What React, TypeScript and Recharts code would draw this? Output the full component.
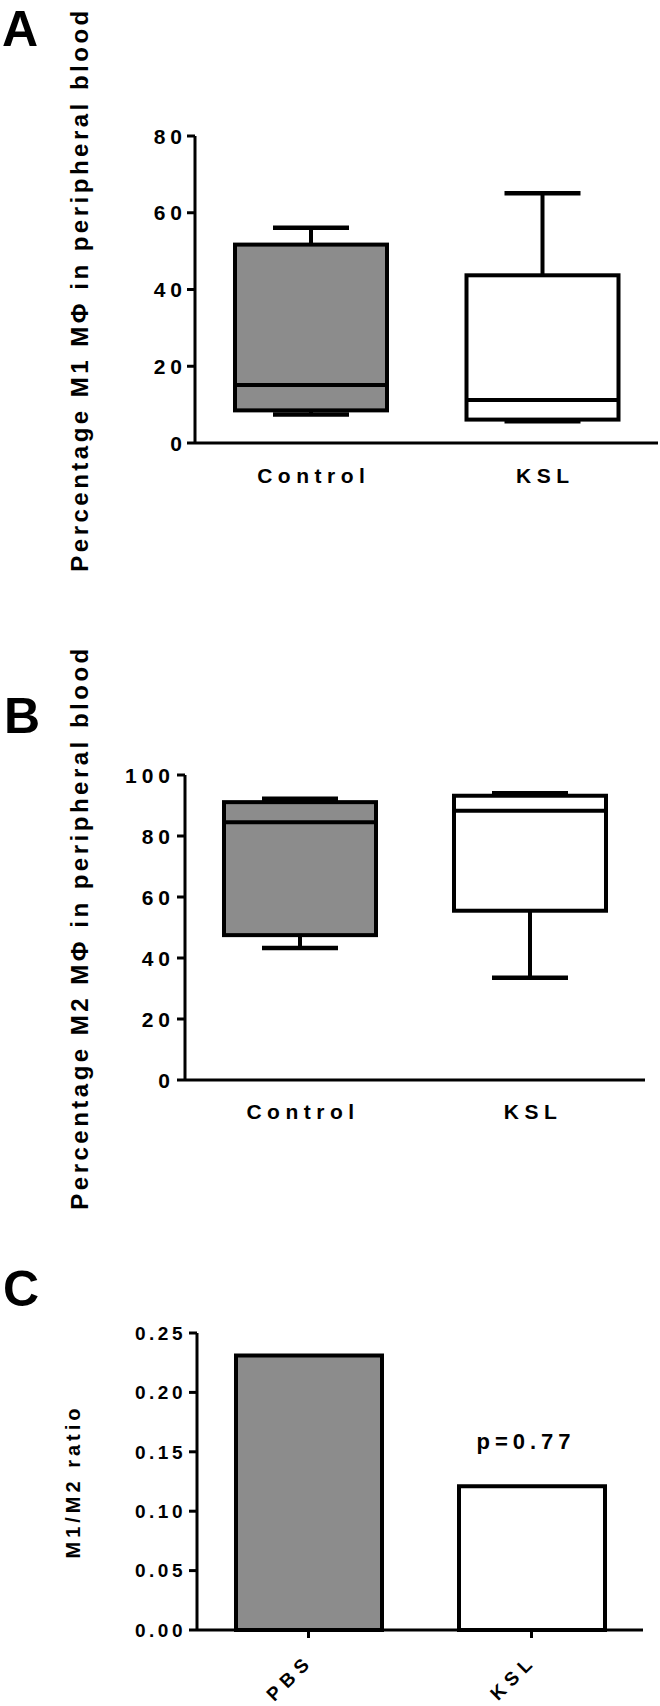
import React from 'react';
import { ComposedChart, Bar, XAxis, YAxis, Cell, LabelList } from 'recharts';

// ---------- data ----------
const boxGroups = ['Control', 'KSL'];

const m1Min = [7.4, 5.7];
const m1Q1 = [8.5, 6.1];
const m1Median = [15.1, 11.2];
const m1Q3 = [51.7, 43.7];
const m1Max = [56.1, 65.1];
const m1Ticks = [0, 20, 40, 60, 80];

const m2Min = [43.3, 33.5];
const m2Q1 = [47.5, 55.5];
const m2Median = [84.5, 88.3];
const m2Q3 = [91.1, 93.2];
const m2Max = [92.2, 94.0];
const m2Ticks = [0, 20, 40, 60, 80, 100];

const ratioGroups = ['PBS', 'KSL'];
const ratioValues = [0.231, 0.121];
const ratioTicks = [0, 0.05, 0.1, 0.15, 0.2, 0.25];
const ratioPLabels = ['', 'p=0.77'];

const groupFills = ['#8c8c8c', '#ffffff'];

const m1Title = 'Percentage M1 MΦ in peripheral blood';
const m2Title = 'Percentage M2 MΦ in peripheral blood';
const ratioTitle = 'M1/M2 ratio';

// ---------- tables ----------
const makeBoxTable = (mins: number[], q1s: number[], meds: number[], q3s: number[], maxs: number[]) =>
  boxGroups.map((name, i) => ({
    name,
    min: mins[i],
    q1: q1s[i],
    median: meds[i],
    q3: q3s[i],
    max: maxs[i],
    range: [mins[i], maxs[i]],
  }));

const m1Data = makeBoxTable(m1Min, m1Q1, m1Median, m1Q3, m1Max);
const m2Data = makeBoxTable(m2Min, m2Q1, m2Median, m2Q3, m2Max);
const ratioData = ratioGroups.map((name, i) => ({ name, value: ratioValues[i], p: ratioPLabels[i] }));

// ---------- styles ----------
const FONT = '"Liberation Sans", Arial, sans-serif';
const BLACK = '#000000';

const BoxShape = (props: any) => {
  const { x, y, width, height, payload, index } = props;
  const top = Math.min(y, y + height);
  const h = Math.abs(height);
  const { min, max, q1, median, q3 } = payload;
  const pix = (v: number) => top + (h * (max - v)) / (max - min);
  const cx = x + width / 2;
  const capHalf = 38;
  return (
    <g>
      <line x1={cx} x2={cx} y1={pix(max)} y2={pix(q3)} stroke={BLACK} strokeWidth={4} />
      <line x1={cx} x2={cx} y1={pix(q1)} y2={pix(min)} stroke={BLACK} strokeWidth={4} />
      <line x1={cx - capHalf} x2={cx + capHalf} y1={pix(max)} y2={pix(max)} stroke={BLACK} strokeWidth={4.5} />
      <line x1={cx - capHalf} x2={cx + capHalf} y1={pix(min)} y2={pix(min)} stroke={BLACK} strokeWidth={4.5} />
      <rect
        x={x}
        y={pix(q3)}
        width={width}
        height={pix(q1) - pix(q3)}
        fill={groupFills[index]}
        stroke={BLACK}
        strokeWidth={4}
      />
      <line x1={x} x2={x + width} y1={pix(median)} y2={pix(median)} stroke={BLACK} strokeWidth={4} />
    </g>
  );
};

const makeYTick = (fontSize: number, spacing: number, fmt: (v: number) => string) => (props: any) => {
  const { x, y, payload } = props;
  return (
    <text
      x={x}
      y={y}
      dy="0.36em"
      textAnchor="end"
      fontFamily={FONT}
      fontWeight="bold"
      fontSize={fontSize}
      letterSpacing={spacing}
      fill={BLACK}
    >
      {fmt(payload.value)}
    </text>
  );
};

const makeXTick = (dy: number) => (props: any) => {
  const { x, y, payload } = props;
  return (
    <text
      x={x + 3}
      y={y + dy}
      textAnchor="middle"
      fontFamily={FONT}
      fontWeight="bold"
      fontSize={21}
      letterSpacing={5.5}
      fill={BLACK}
    >
      {payload.value}
    </text>
  );
};

const RotXTick = (props: any) => {
  const { x, y, payload } = props;
  return (
    <g transform={`translate(${x + 6},${y + 24}) rotate(-45)`}>
      <text textAnchor="end" fontFamily={FONT} fontWeight="bold" fontSize={19} letterSpacing={6} fill={BLACK}>
        {payload.value}
      </text>
    </g>
  );
};

const makeYLabel = (text: string, baselineX: number, fontSize: number, spacing: number) => (props: any) => {
  const vb = props.viewBox || { x: 0, y: 0, width: 0, height: 0 };
  const cy = vb.y + vb.height / 2;
  return (
    <text
      x={baselineX}
      y={cy}
      transform={`rotate(-90, ${baselineX}, ${cy})`}
      textAnchor="middle"
      fontFamily={FONT}
      fontWeight="bold"
      fontSize={fontSize}
      letterSpacing={spacing}
      fill={BLACK}
    >
      {text}
    </text>
  );
};

const PLabel = (props: any) => {
  const { x, y, width, value } = props;
  if (!value) return null;
  return (
    <text
      x={x + width / 2 - 6}
      y={y - 37}
      textAnchor="middle"
      fontFamily={FONT}
      fontWeight="bold"
      fontSize={22}
      letterSpacing={5}
      fill={BLACK}
    >
      {value}
    </text>
  );
};

const axisStyle = { stroke: BLACK, strokeWidth: 3 };

export default function App() {
  return (
    <div style={{ position: 'absolute', left: 0, top: 0, width: 660, height: 1706, background: '#fff' }}>
      {/* Panel A */}
      <div style={{ position: 'absolute', left: 0, top: 0 }}>
        <ComposedChart width={660} height={600} data={m1Data} margin={{ top: 136, right: 2, bottom: 97, left: 0 }}>
          <XAxis
            dataKey="name"
            type="category"
            axisLine={axisStyle}
            tickLine={false}
            tickSize={0}
            tickMargin={0}
            height={60}
            tick={makeXTick(40)}
          />
          <YAxis
            type="number"
            domain={[0, 80]}
            ticks={m1Ticks}
            width={195}
            axisLine={axisStyle}
            tickLine={axisStyle}
            tickSize={8}
            tickMargin={0}
            tick={makeYTick(21, 5, (v) => String(v))}
            label={makeYLabel(m1Title, 88, 24, 3.5)}
          />
          <Bar dataKey="range" barSize={152} shape={<BoxShape />} isAnimationActive={false} />
        </ComposedChart>
      </div>

      {/* Panel B */}
      <div style={{ position: 'absolute', left: 0, top: 600 }}>
        <ComposedChart width={660} height={640} data={m2Data} margin={{ top: 175, right: 15, bottom: 100, left: 0 }}>
          <XAxis
            dataKey="name"
            type="category"
            axisLine={axisStyle}
            tickLine={false}
            tickSize={0}
            tickMargin={0}
            height={60}
            tick={makeXTick(39)}
          />
          <YAxis
            type="number"
            domain={[0, 100]}
            ticks={m2Ticks}
            width={185}
            axisLine={axisStyle}
            tickLine={axisStyle}
            tickSize={8}
            tickMargin={2}
            tick={makeYTick(21, 5, (v) => String(v))}
            label={makeYLabel(m2Title, 88, 24, 3.5)}
          />
          <Bar dataKey="range" barSize={152} shape={<BoxShape />} isAnimationActive={false} />
        </ComposedChart>
      </div>

      {/* Panel C */}
      <div style={{ position: 'absolute', left: 0, top: 1150 }}>
        <ComposedChart width={660} height={556} data={ratioData} margin={{ top: 183, right: 17, bottom: 16, left: 0 }}>
          <XAxis
            dataKey="name"
            type="category"
            axisLine={axisStyle}
            tickLine={axisStyle}
            tickSize={8}
            tickMargin={0}
            height={60}
            tick={<RotXTick />}
          />
          <YAxis
            type="number"
            domain={[0, 0.25]}
            ticks={ratioTicks}
            width={197}
            axisLine={axisStyle}
            tickLine={axisStyle}
            tickSize={8}
            tickMargin={3}
            tick={makeYTick(19, 3.5, (v) => v.toFixed(2))}
            label={makeYLabel(ratioTitle, 80, 20, 4)}
          />
          <Bar dataKey="value" barSize={146} stroke={BLACK} strokeWidth={4} isAnimationActive={false}>
            {ratioData.map((d, i) => (
              <Cell key={d.name} fill={groupFills[i]} />
            ))}
            <LabelList dataKey="p" content={<PLabel />} />
          </Bar>
        </ComposedChart>
      </div>

      {/* Panel letters */}
      <svg width={660} height={1706} style={{ position: 'absolute', left: 0, top: 0, pointerEvents: 'none' }}>
        <text x={2} y={46} fontFamily={FONT} fontWeight="bold" fontSize={50} fill={BLACK}>A</text>
        <text x={4} y={733} fontFamily={FONT} fontWeight="bold" fontSize={50} fill={BLACK}>B</text>
        <text x={3} y={1306} fontFamily={FONT} fontWeight="bold" fontSize={50} fill={BLACK}>C</text>
      </svg>
    </div>
  );
}
